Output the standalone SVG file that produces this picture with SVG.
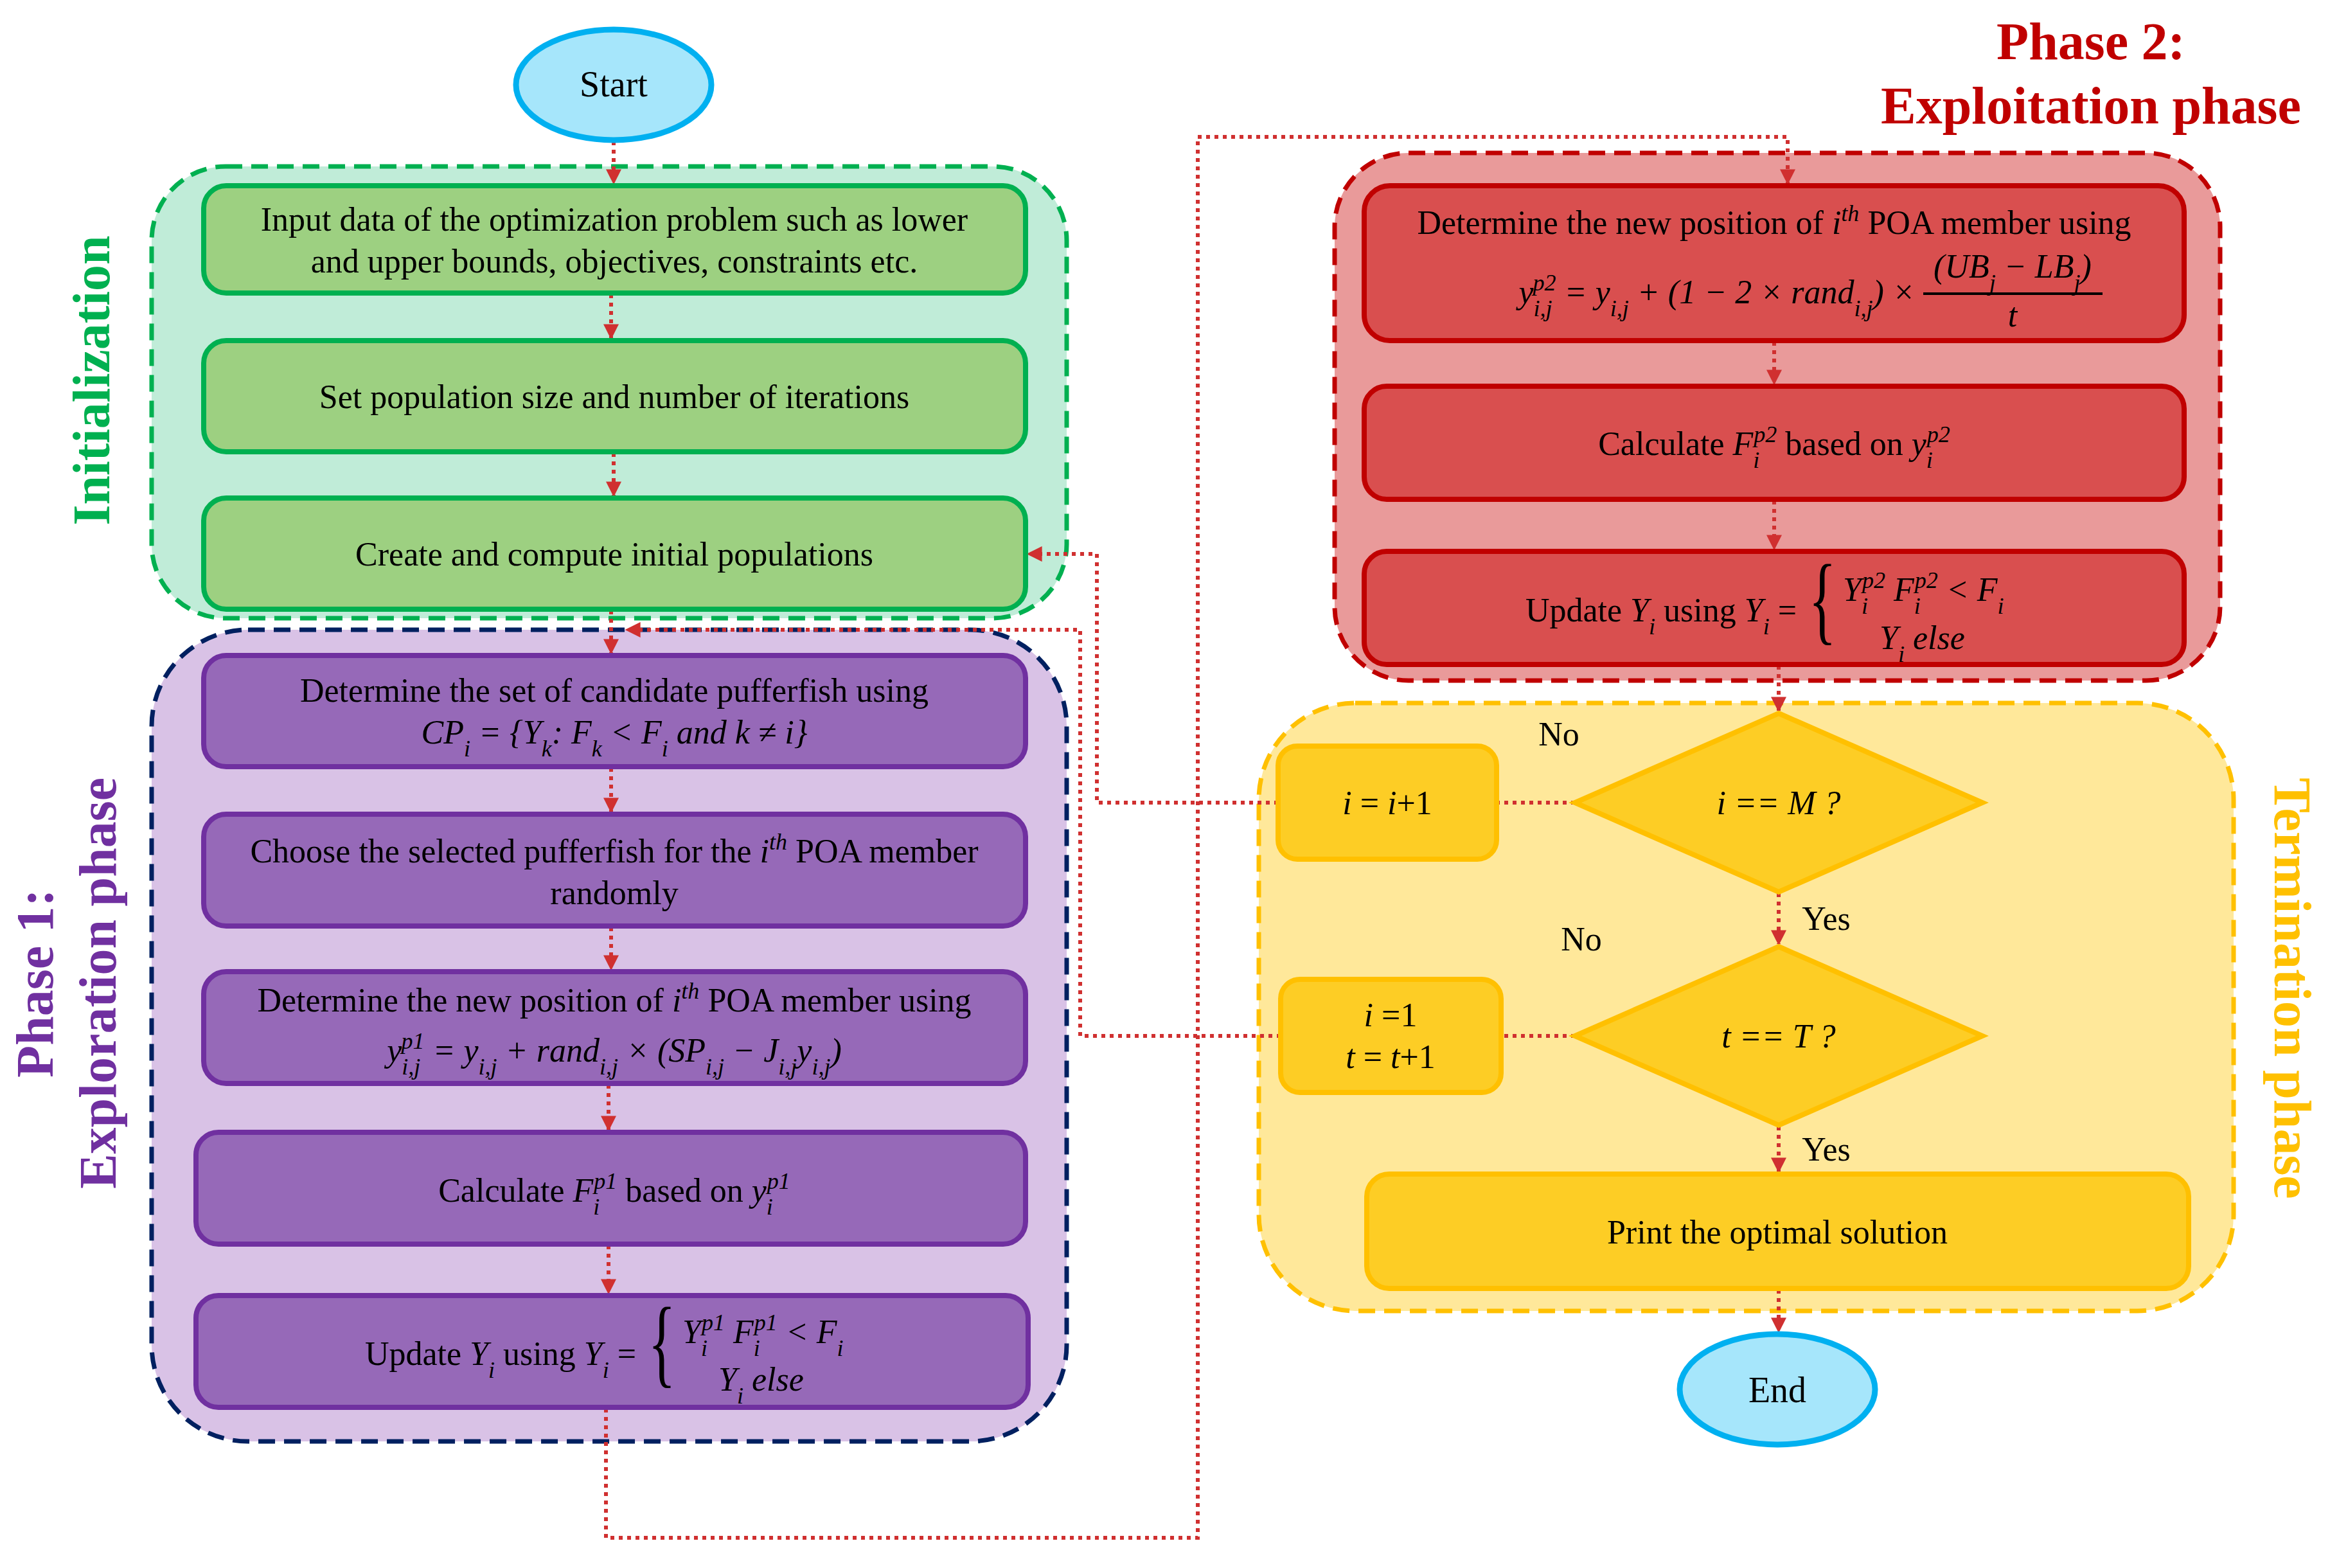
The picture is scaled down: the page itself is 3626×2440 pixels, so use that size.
<svg xmlns="http://www.w3.org/2000/svg" width="3626" height="2440" viewBox="0 0 3626 2440">
<defs>
<marker id="ah" viewBox="0 0 10 10" refX="9" refY="5" markerWidth="4" markerHeight="4" orient="auto-start-reverse" markerUnits="strokeWidth"><path d="M0,0 L10,5 L0,10 z" fill="#d03030"/></marker>
<style>
.t{font-family:"Liberation Serif",serif;font-size:52px;fill:#000;text-anchor:middle}
.i{font-style:italic}
.s{font-size:36px}
.c{fill:none;stroke:#d03030;stroke-width:6;stroke-dasharray:6 7}
.ca{fill:none;stroke:#d03030;stroke-width:6;stroke-dasharray:6 7;marker-end:url(#ah)}
.gi{fill:#c0ecd8;stroke:#00b050;stroke-width:7;stroke-dasharray:26 14}
.gp{fill:#d9c2e6;stroke:#002060;stroke-width:7;stroke-dasharray:26 14}
.gr{fill:#e99a9a;stroke:#c00000;stroke-width:7;stroke-dasharray:26 14}
.gy{fill:#ffe89a;stroke:#ffc000;stroke-width:7;stroke-dasharray:26 14}
.bg{fill:#9dd081;stroke:#00b050;stroke-width:8}
.bp{fill:#9669b8;stroke:#7030a0;stroke-width:8}
.br{fill:#d94f4f;stroke:#c00000;stroke-width:8}
.by{fill:#fdcd25;stroke:#ffc000;stroke-width:8}
.el{fill:#a6e6fb;stroke:#00b0f0;stroke-width:9}
.lab{font-family:"Liberation Serif",serif;font-weight:bold;font-size:82px;text-anchor:middle}
</style>
</defs>
<g id="groups">
<rect class="gi" x="236" y="259" width="1424" height="703" rx="115"/>
<rect class="gp" x="236" y="980" width="1424" height="1263" rx="150"/>
<rect class="gr" x="2077" y="238" width="1378" height="821" rx="115"/>
<rect class="gy" x="1959" y="1094" width="1517" height="946" rx="150"/>
</g>
<g id="labels">
<text class="lab" fill="#00b050" transform="translate(170,592) rotate(-90)">Initialization</text>
<text class="lab" fill="#7030a0" transform="translate(82,1530) rotate(-90)">Phase 1:</text>
<text class="lab" fill="#7030a0" transform="translate(180,1530) rotate(-90)">Exploration phase</text>
<text class="lab" fill="#ffc000" transform="translate(3540,1538) rotate(90)">Termination phase</text>
<text class="lab" fill="#c00000" x="3254" y="92">Phase 2:</text>
<text class="lab" fill="#c00000" x="3254" y="192">Exploitation phase</text>
</g>
<g id="connectors">
<line class="ca" x1="955" y1="220" x2="955" y2="285"/>
<line class="ca" x1="951" y1="458" x2="951" y2="526"/>
<line class="ca" x1="955" y1="705" x2="955" y2="771"/>
<line class="ca" x1="951" y1="950" x2="951" y2="1016"/>
<line class="ca" x1="951" y1="1195" x2="951" y2="1263"/>
<line class="ca" x1="951" y1="1443" x2="951" y2="1508"/>
<line class="ca" x1="947" y1="1688" x2="947" y2="1758"/>
<line class="ca" x1="947" y1="1938" x2="947" y2="2012"/>
<polyline class="ca" points="943,2192 943,2393 1864,2393 1864,213 2782,213 2782,285"/>
<line class="ca" x1="2761" y1="532" x2="2761" y2="597"/>
<line class="ca" x1="2761" y1="779" x2="2761" y2="854"/>
<line class="ca" x1="2768" y1="1036" x2="2768" y2="1106"/>
<line class="c" x1="2451" y1="1249" x2="2329" y2="1249"/>
<polyline class="ca" points="1989,1249 1707,1249 1707,862 1600,862"/>
<line class="ca" x1="2768" y1="1390" x2="2768" y2="1469"/>
<line class="c" x1="2451" y1="1612" x2="2336" y2="1612"/>
<polyline class="ca" points="1993,1612 1681,1612 1681,980 975,980"/>
<line class="ca" x1="2768" y1="1753" x2="2768" y2="1823"/>
<line class="ca" x1="2768" y1="2007" x2="2768" y2="2072"/>
</g>
<g id="start"><ellipse class="el" cx="955" cy="132" rx="152" ry="86"/><text class="t" x="955" y="150" style="font-size:56px">Start</text></g>
<g id="n1"><rect class="bg" x="317" y="289" width="1279" height="167" rx="35"/>
<text class="t" x="956" y="359">Input data of the optimization problem such as lower</text>
<text class="t" x="956" y="424">and upper bounds, objectives, constraints etc.</text></g>
<g id="n2"><rect class="bg" x="317" y="530" width="1279" height="173" rx="35"/><text class="t" x="956" y="635">Set population size and number of iterations</text></g>
<g id="n3"><rect class="bg" x="317" y="775" width="1279" height="173" rx="35"/><text class="t" x="956" y="880">Create and compute initial populations</text></g>
<g id="p1"><rect class="bp" x="317" y="1020" width="1279" height="173" rx="35"/>
<text class="t" x="956" y="1092">Determine the set of candidate pufferfish using</text>
<text class="t i" x="956" y="1157">CP<tspan class="s" baseline-shift="sub">i</tspan> = {Y<tspan class="s" baseline-shift="sub">k</tspan>: F<tspan class="s" baseline-shift="sub">k</tspan> &lt; F<tspan class="s" baseline-shift="sub">i</tspan> and k ≠ i}</text></g>
<g id="p2"><rect class="bp" x="317" y="1267" width="1279" height="174" rx="35"/>
<text class="t" x="956" y="1342">Choose the selected pufferfish for the <tspan class="i">i</tspan><tspan class="s i" baseline-shift="super">th</tspan> POA member</text>
<text class="t" x="956" y="1407">randomly</text></g>
<g id="p3"><rect class="bp" x="317" y="1512" width="1279" height="174" rx="35"/>
<text class="t" x="956" y="1574">Determine the new position of <tspan class="i">i</tspan><tspan class="s i" baseline-shift="super">th</tspan> POA member using</text>
<text class="t i" x="956" y="1652">y<tspan class="s" baseline-shift="sub">i,j</tspan><tspan class="s" dx="-30" baseline-shift="super">p1</tspan> = y<tspan class="s" baseline-shift="sub">i,j</tspan> + rand<tspan class="s" baseline-shift="sub">i,j</tspan> × (SP<tspan class="s" baseline-shift="sub">i,j</tspan> − J<tspan class="s" baseline-shift="sub">i,j</tspan>y<tspan class="s" baseline-shift="sub">i,j</tspan>)</text></g>
<g id="p4"><rect class="bp" x="305" y="1762" width="1291" height="174" rx="35"/>
<text class="t" x="956" y="1870">Calculate <tspan class="i">F</tspan><tspan class="s i" baseline-shift="sub">i</tspan><tspan class="s i" dx="-9" baseline-shift="super">p1</tspan> based on <tspan class="i">y</tspan><tspan class="s i" baseline-shift="sub">i</tspan><tspan class="s i" dx="-9" baseline-shift="super">p1</tspan></text></g>
<g id="p5"><rect class="bp" x="305" y="2016" width="1295" height="174" rx="35"/>
<text class="t" x="990" y="2124" style="text-anchor:end">Update <tspan class="i">Y</tspan><tspan class="s i" baseline-shift="sub">i</tspan> using <tspan class="i">Y</tspan><tspan class="s i" baseline-shift="sub">i</tspan> =</text>
<text class="t" transform="translate(1030,2140) scale(1,1.7)" style="font-size:90px">{</text>
<text class="t i" x="1062" y="2090" style="text-anchor:start">Y<tspan class="s" baseline-shift="sub">i</tspan><tspan class="s" dx="-9" baseline-shift="super">p1</tspan>   F<tspan class="s" baseline-shift="sub">i</tspan><tspan class="s" dx="-9" baseline-shift="super">p1</tspan> &lt; F<tspan class="s" baseline-shift="sub">i</tspan></text>
<text class="t i" x="1118" y="2164" style="text-anchor:start">Y<tspan class="s" baseline-shift="sub">i</tspan>   else</text></g>
<g id="r1"><rect class="br" x="2123" y="289" width="1276" height="241" rx="40"/>
<text class="t" x="2761" y="364">Determine the new position of <tspan class="i">i</tspan><tspan class="s i" baseline-shift="super">th</tspan> POA member using</text>
<text class="t i" x="2980" y="472" style="text-anchor:end">y<tspan class="s" baseline-shift="sub">i,j</tspan><tspan class="s" dx="-30" baseline-shift="super">p2</tspan> = y<tspan class="s" baseline-shift="sub">i,j</tspan> + (1 − 2 × rand<tspan class="s" baseline-shift="sub">i,j</tspan>) ×</text>
<text class="t i" x="3132" y="432">(UB<tspan class="s" baseline-shift="sub">j</tspan> − LB<tspan class="s" baseline-shift="sub">j</tspan>)</text>
<line x1="2993" y1="457" x2="3272" y2="457" stroke="#000" stroke-width="4"/>
<text class="t i" x="3132" y="508">t</text></g>
<g id="r2"><rect class="br" x="2123" y="601" width="1276" height="176" rx="35"/>
<text class="t" x="2761" y="708">Calculate <tspan class="i">F</tspan><tspan class="s i" baseline-shift="sub">i</tspan><tspan class="s i" dx="-9" baseline-shift="super">p2</tspan> based on <tspan class="i">y</tspan><tspan class="s i" baseline-shift="sub">i</tspan><tspan class="s i" dx="-9" baseline-shift="super">p2</tspan></text></g>
<g id="r3"><rect class="br" x="2123" y="858" width="1276" height="176" rx="35"/>
<text class="t" x="2796" y="967" style="text-anchor:end">Update <tspan class="i">Y</tspan><tspan class="s i" baseline-shift="sub">i</tspan> using <tspan class="i">Y</tspan><tspan class="s i" baseline-shift="sub">i</tspan> =</text>
<text class="t" transform="translate(2836,984) scale(1,1.7)" style="font-size:90px">{</text>
<text class="t i" x="2868" y="935" style="text-anchor:start">Y<tspan class="s" baseline-shift="sub">i</tspan><tspan class="s" dx="-9" baseline-shift="super">p2</tspan>   F<tspan class="s" baseline-shift="sub">i</tspan><tspan class="s" dx="-9" baseline-shift="super">p2</tspan> &lt; F<tspan class="s" baseline-shift="sub">i</tspan></text>
<text class="t i" x="2925" y="1010" style="text-anchor:start">Y<tspan class="s" baseline-shift="sub">i</tspan>   else</text></g>
<g id="inc"><rect class="by" x="1989" y="1161" width="340" height="176" rx="30"/><text class="t" x="2159" y="1267"><tspan class="i">i</tspan> = <tspan class="i">i</tspan>+1</text></g>
<g id="d1"><polygon class="by" points="2768,1110 3085,1249 2768,1388 2451,1249"/><text class="t i" x="2768" y="1267">i == M ?</text></g>
<g id="reset"><rect class="by" x="1993" y="1524" width="343" height="176" rx="30"/>
<text class="t" x="2164" y="1597"><tspan class="i">i</tspan> =1</text><text class="t" x="2164" y="1662"><tspan class="i">t</tspan> = <tspan class="i">t</tspan>+1</text></g>
<g id="d2"><polygon class="by" points="2768,1473 3085,1612 2768,1751 2451,1612"/><text class="t i" x="2768" y="1630">t == T ?</text></g>
<g id="print"><rect class="by" x="2127" y="1827" width="1279" height="178" rx="35"/><text class="t" x="2766" y="1935">Print the optimal solution</text></g>
<g id="end"><ellipse class="el" cx="2766" cy="2162" rx="152" ry="86"/><text class="t" x="2766" y="2182" style="font-size:56px">End</text></g>
<g id="edgelabels">
<text class="t" x="2426" y="1160">No</text>
<text class="t" x="2842" y="1447">Yes</text>
<text class="t" x="2461" y="1479">No</text>
<text class="t" x="2842" y="1806">Yes</text>
</g>
</svg>
